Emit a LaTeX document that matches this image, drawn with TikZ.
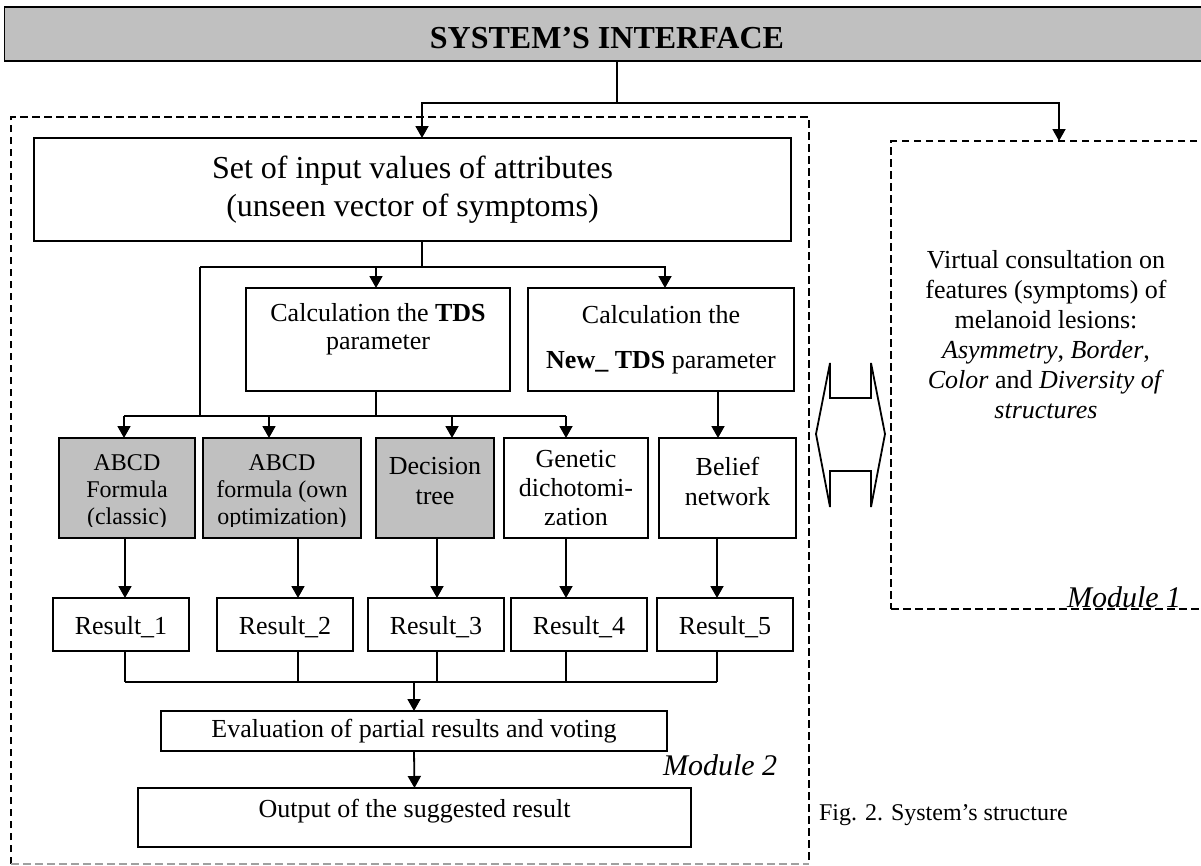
\documentclass[tikz,border=0pt]{standalone}
\usepackage{fontspec}
\setmainfont{Liberation Serif}
\usetikzlibrary{arrows.meta}
\definecolor{boxgray}{HTML}{C0C0C0}
\definecolor{dashgray}{HTML}{A0A0A0}
\begin{document}
\begin{tikzpicture}[x=1pt,y=-1pt,
  box/.style={draw, line width=1.8pt, rectangle, inner sep=0pt, outer sep=0pt, align=center},
  gbox/.style={box, fill=boxgray},
  txt/.style={inner sep=0pt, outer sep=0pt, align=center},
  conn/.style={line width=1.8pt},
  arr/.style={conn, -{Triangle[width=13pt,length=12pt]}},
  dsh/.style={line width=1.8pt, dash pattern=on 7.5pt off 4.5pt},
  fbig/.style={font=\fontsize{32}{38}\selectfont},
  fmid/.style={font=\fontsize{26}{30}\selectfont},
  fsmall/.style={font=\fontsize{24}{27}\selectfont},
  fmod/.style={font=\itshape\fontsize{30}{34}\selectfont},
  res/.style={box, minimum width=136pt, minimum height=53pt, text height=20pt, text depth=0pt, fmid}
]
\useasboundingbox (0,0) rectangle (1201,865);
\clip (0,0) rectangle (1201,865);

% module frames
\node[draw=none, minimum width=798pt, minimum height=747pt, inner sep=0pt, outer sep=0pt] (m2) at (410,490.5) {};
\draw[dsh] (m2.south west) -- (m2.north west) -- (m2.north east) -- (m2.south east);
\draw[dsh, dashgray, line width=1.5pt] (m2.south west) -- (m2.south east);
\node[draw, dsh, minimum width=369pt, minimum height=468pt, inner sep=0pt, outer sep=0pt] (m1) at (1075.5,375) {};

% title bar
\node[gbox, minimum width=1215pt, minimum height=54pt] (bar) at (612,34) {};
\node[txt, font=\bfseries\fontsize{32}{36}\selectfont] (title) at (607,38) {SYSTEM’S INTERFACE};

% input box
\node[box, fbig, minimum width=757pt, minimum height=103pt] (inp) at (412.5,189.5)
  {Set of input values of attributes\\(unseen vector of symptoms)};

% TDS boxes
\node[box, minimum width=264pt, minimum height=103pt] (tds) at (378,339.5) {};
\node[txt, font=\fontsize{26}{28}\selectfont] (tdst) at (378,329) {Calculation the \textbf{TDS}\\parameter};
\node[box, minimum width=266pt, minimum height=103pt, font=\fontsize{26}{45}\selectfont] (ntds) at (661,339.5)
  {Calculation the\\\textbf{New\_ TDS} parameter};

% method boxes
\node[gbox, minimum width=136pt, minimum height=100pt] (b1) at (127,488) {};
\node[gbox, minimum width=158pt, minimum height=100pt] (b2) at (282,488) {};
\node[gbox, minimum width=118pt, minimum height=100pt] (b3) at (435,488) {};
\node[box, minimum width=144pt, minimum height=100pt, font=\fontsize{26}{29}\selectfont] (b4) at (576,488) {Genetic\\dichotomi-\\zation};
\node[box, minimum width=137pt, minimum height=100pt] (b5) at (727.5,488) {};
\begin{scope}
  \clip (59,438) rectangle (361,526);
  \node[txt, fsmall] (b1t) at (127,492) {ABCD\\Formula\\(classic)};
  \node[txt, fsmall] (b2t) at (282,492) {ABCD\\formula (own\\optimization)};
\end{scope}
\node[txt, fmid] (b3t) at (435,481) {Decision\\tree};
\node[txt, fmid] (b5t) at (727.5,481) {Belief\\network};

% results
\node[res] (r1) at (121,624.5) {Result\_1};
\node[res] (r2) at (285,624.5) {Result\_2};
\node[res] (r3) at (436,624.5) {Result\_3};
\node[res] (r4) at (579,624.5) {Result\_4};
\node[res] (r5) at (725,624.5) {Result\_5};

% evaluation and output
\node[box, fmid, minimum width=506pt, minimum height=40pt] (eval) at (414,731) {Evaluation of partial results and voting};
\node[box, minimum width=553pt, minimum height=59pt] (out) at (414.5,817.5) {};
\node[txt, fmid, anchor=base] (outt) at (414.5,817) {Output of the suggested result};

% labels
\node[txt, fmod, anchor=base west] (mod2) at (663,775) {Module 2};
\node[txt, fmod, anchor=base west] (mod1) at (1067,607) {Module 1};
\node[txt, font=\fontsize{24}{28}\selectfont, anchor=base west] (cap) at (819,820) {Fig. 2. System’s structure};
\node[txt, fmid] (m1t) at (1046,335) {Virtual consultation on\\features (symptoms) of\\melanoid lesions:\\\textit{Asymmetry}, \textit{Border},\\\textit{Color} and \textit{Diversity of}\\\textit{structures}};

% double arrow between modules
\draw[line width=1.8pt] (816,434) -- (830,363) -- (830,398) -- (871,398) -- (871,363) -- (885,434)
  -- (871,507) -- (871,471) -- (830,471) -- (830,507) -- cycle;

% connectors: interface to modules
\coordinate (jA) at (617,103);
\coordinate (jAL) at (422,103);
\coordinate (jAR) at (1059,103);
\draw[conn] (bar.south -| jA) -- (jA);
\draw[arr] (jA) -- (jAL) -- (jAL |- inp.north);
\draw[arr] (jA) -- (jAR) -- (jAR |- m1.north);

% input to calculations
\coordinate (jB) at (422,267);
\coordinate (jBL) at (200,267);
\coordinate (jBT) at (376,267);
\coordinate (jBR) at (665,267);
\draw[conn] (inp.south -| jB) -- (jB);
\draw[arr] (jB) -- (jBR) -- (jBR |- ntds.north);
\draw[arr] (jB) -- (jBT) -- (jBT |- tds.north);
\draw[conn] (jBT) -- (jBL);

% distribution to methods
\coordinate (t1) at (124,416);
\coordinate (t2) at (269,416);
\coordinate (t3) at (452,416);
\coordinate (t4) at (566,416);
\coordinate (jC) at (376,416);
\draw[conn] (jBL) -- (jBL |- t1);
\draw[conn] (tds.south -| jC) -- (jC);
\draw[conn] (t1) -- (t4);
\draw[arr] (t1) -- (t1 |- b1.north);
\draw[arr] (t2) -- (t2 |- b2.north);
\draw[arr] (t3) -- (t3 |- b3.north);
\draw[arr] (t4) -- (t4 |- b4.north);
\coordinate (t5) at (718,416);
\draw[arr] (ntds.south -| t5) -- (t5 |- b5.north);

% methods to results
\coordinate (k1) at (125,682);
\coordinate (k2) at (298,682);
\coordinate (k3) at (437,682);
\coordinate (k4) at (566,682);
\coordinate (k5) at (717,682);
\draw[arr] (b1.south -| k1) -- (r1.north -| k1);
\draw[arr] (b2.south -| k2) -- (r2.north -| k2);
\draw[arr] (b3.south -| k3) -- (r3.north -| k3);
\draw[arr] (b4.south -| k4) -- (r4.north -| k4);
\draw[arr] (b5.south -| k5) -- (r5.north -| k5);

% results to evaluation
\draw[conn] (r1.south -| k1) -- (k1);
\draw[conn] (r2.south -| k2) -- (k2);
\draw[conn] (r3.south -| k3) -- (k3);
\draw[conn] (r4.south -| k4) -- (k4);
\draw[conn] (r5.south -| k5) -- (k5);
\draw[conn] (k1) -- (k5);
\coordinate (kE) at (414,682);
\draw[arr] (kE) -- (eval.north);
\draw[arr] (eval.south) -- (out.north);
\end{tikzpicture}
\end{document}
